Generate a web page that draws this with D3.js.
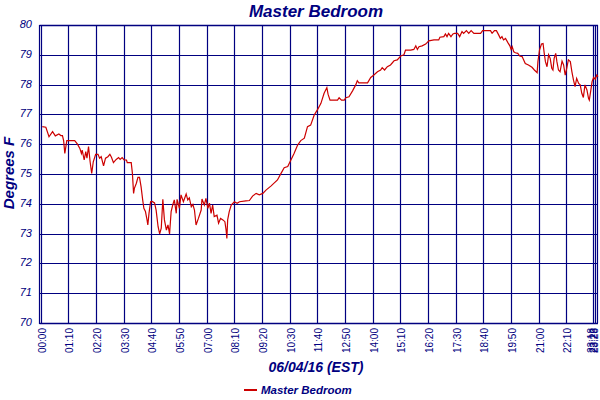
<!DOCTYPE html>
<html>
<head>
<meta charset="utf-8">
<script src="https://cdn.jsdelivr.net/npm/d3@7"></script>
<style>
  body { margin: 0; background: #fff; }
  svg { display: block; font-family: 'Liberation Sans', Arial, sans-serif; }
</style>
</head>
<body>
<svg id="chart" width="600" height="400"></svg>
<script>
// minutes after midnight for each reading
const minutes = [
  2, 11, 19, 28, 35, 44, 49, 53, 56, 59, 61, 64, 76, 84, 91, 97, 101, 103, 108, 112,
  115, 119, 123, 127, 131, 137, 143, 147, 151, 157, 162, 168, 173, 177, 182, 189, 195, 199, 204, 209,
  215, 217, 227, 230, 233, 235, 240, 244, 248, 252, 256, 259, 263, 267, 269, 272, 276, 280, 286, 290,
  295, 299, 303, 307, 311, 316, 320, 324, 328, 332, 336, 341, 343, 349, 353, 359, 366, 370, 374, 379,
  383, 387, 391, 397, 404, 406, 412, 416, 421, 425, 429, 433, 437, 444, 448, 453, 459, 464, 467, 469,
  471, 475, 480, 488, 495, 501, 517, 526, 534, 543, 551, 560, 568, 581, 597, 606, 614, 623, 631, 639,
  648, 656, 665, 673, 681, 690, 698, 707, 715, 722, 725, 730, 749, 753, 759, 766, 770, 778, 787, 795,
  799, 803, 825, 833, 841, 850, 858, 862, 868, 875, 883, 892, 900, 909, 917, 921, 934, 942, 947, 951,
  955, 963, 972, 980, 993, 1005, 1008, 1018, 1022, 1026, 1030, 1036, 1041, 1045, 1053, 1058, 1064, 1068, 1075, 1081,
  1087, 1094, 1111, 1116, 1136, 1140, 1146, 1151, 1157, 1161, 1165, 1169, 1174, 1180, 1185, 1188, 1191, 1195, 1199, 1205,
  1210, 1216, 1224, 1232, 1241, 1247, 1254, 1256, 1260, 1265, 1269, 1272, 1275, 1279, 1283, 1287, 1291, 1294, 1297, 1301,
  1304, 1308, 1312, 1317, 1321, 1325, 1329, 1333, 1338, 1342, 1346, 1350, 1354, 1359, 1363, 1367, 1371, 1375, 1380, 1384,
  1386, 1390, 1393, 1397, 1401, 1405, 1408
];
const temps = [
  76.59, 76.57, 76.25, 76.42, 76.28, 76.34, 76.29, 76.29, 76.12, 75.69, 75.86, 76.12, 76.12, 76.12, 76.00, 75.86, 75.69, 75.80, 75.47, 75.75,
  75.53, 75.92, 75.41, 75.02, 75.41, 75.66, 75.66, 75.53, 75.58, 75.27, 75.53, 75.58, 75.66, 75.56, 75.38, 75.49, 75.55, 75.49, 75.55, 75.47,
  75.47, 75.38, 75.38, 75.02, 74.35, 74.52, 74.69, 74.89, 74.89, 74.57, 74.13, 73.85, 73.74, 73.46, 73.29, 73.68, 74.07, 74.08, 74.03, 73.79,
  73.23, 72.99, 73.18, 74.15, 73.46, 73.12, 73.29, 72.99, 73.74, 73.96, 74.13, 73.68, 74.15, 73.85, 74.30, 74.07, 74.33, 74.13, 74.20, 73.90,
  73.98, 73.79, 73.29, 73.51, 73.79, 74.16, 73.96, 74.18, 73.85, 74.02, 73.68, 73.96, 73.57, 73.62, 73.35, 73.51, 73.46, 73.40, 73.12, 72.84,
  73.46, 73.74, 73.96, 74.07, 74.02, 74.07, 74.10, 74.11, 74.26, 74.35, 74.30, 74.35, 74.46, 74.60, 74.80, 75.02, 75.21, 75.25, 75.47, 75.69,
  75.97, 76.12, 76.20, 76.59, 76.64, 76.98, 77.15, 77.37, 77.71, 77.90, 77.68, 77.48, 77.48, 77.56, 77.48, 77.48, 77.56, 77.59, 77.79, 77.99,
  78.13, 78.06, 78.06, 78.24, 78.32, 78.43, 78.49, 78.57, 78.49, 78.60, 78.66, 78.80, 78.83, 78.96, 79.00, 79.16, 79.16, 79.18, 79.30, 79.18,
  79.27, 79.30, 79.36, 79.47, 79.50, 79.50, 79.59, 79.61, 79.70, 79.61, 79.72, 79.61, 79.70, 79.72, 79.72, 79.61, 79.78, 79.72, 79.81, 79.72,
  79.81, 79.72, 79.72, 79.81, 79.81, 79.72, 79.81, 79.81, 79.66, 79.55, 79.61, 79.50, 79.55, 79.41, 79.30, 79.18, 79.27, 79.10, 79.07, 79.05,
  78.96, 78.94, 78.71, 78.66, 78.58, 78.49, 78.40, 78.77, 79.16, 79.36, 79.38, 79.05, 78.77, 78.60, 79.00, 78.88, 78.55, 78.49, 78.88, 79.05,
  78.77, 78.49, 78.43, 78.79, 78.66, 78.32, 78.55, 78.83, 78.77, 78.43, 78.15, 77.93, 78.21, 78.04, 77.99, 77.71, 77.57, 77.99, 77.82, 77.54,
  77.48, 77.82, 78.10, 78.24, 78.18, 78.32, 78.27
];
const xTickMinutes = [0, 70, 140, 210, 280, 350, 420, 490, 560, 630, 700, 770, 840, 910, 980, 1050, 1120, 1190, 1260, 1330, 1398, 1403, 1408];
const xTickLabels = ['00:00', '01:10', '02:20', '03:30', '04:40', '05:50', '07:00', '08:10', '09:20', '10:30', '11:40', '12:50',
  '14:00', '15:10', '16:20', '17:30', '18:40', '19:50', '21:00', '22:10', '23:18', '23:23', '23:28'];
const yTicks = [70, 71, 72, 73, 74, 75, 76, 77, 78, 79, 80];

const navy = '#000080';
const red = '#cc0000';
const margin = { top: 25, right: 2, bottom: 77, left: 41.5 };
const w = 600;
const h = 400;

const svg = d3.select('#chart');

const xScale = d3.scaleLinear()
  .domain([0, 1408])
  .range([margin.left, w - margin.right]);
const yScale = d3.scaleLinear()
  .domain([70, 80])
  .range([h - margin.bottom, margin.top]);

// grid
svg.append('g')
  .selectAll('line')
  .data(xTickMinutes)
  .join('line')
  .attr('x1', d => Math.round(xScale(d)) - 0.5)
  .attr('x2', d => Math.round(xScale(d)) - 0.5)
  .attr('y1', margin.top)
  .attr('y2', h - margin.bottom)
  .attr('stroke', navy)
  .attr('stroke-width', 1.2);

svg.append('g')
  .selectAll('line')
  .data(yTicks)
  .join('line')
  .attr('x1', margin.left - 2)
  .attr('x2', w - margin.right)
  .attr('y1', d => Math.round(yScale(d)) + 0.5)
  .attr('y2', d => Math.round(yScale(d)) + 0.5)
  .attr('stroke', navy)
  .attr('stroke-width', d => (d === 70 || d === 80) ? 1.6 : 1.2);

// left border
svg.append('line')
  .attr('x1', 39.5).attr('x2', 39.5)
  .attr('y1', margin.top).attr('y2', h - margin.bottom + 1)
  .attr('stroke', navy)
  .attr('stroke-width', 1.2);

// y tick labels
svg.append('g')
  .selectAll('text')
  .data(yTicks)
  .join('text')
  .attr('x', 32)
  .attr('y', d => yScale(d) + 3)
  .attr('text-anchor', 'end')
  .attr('font-size', 11)
  .attr('font-style', 'italic')
  .attr('fill', navy)
  .text(d => d);

// x tick labels (the last few crowd together at the right edge)
svg.append('g')
  .selectAll('text')
  .data(xTickMinutes)
  .join('text')
  .attr('transform', d => `translate(${Math.min(xScale(d) + (d > 1390 ? 1 : 4), 598)}, 328) rotate(-90)`)
  .attr('text-anchor', 'end')
  .attr('font-size', 10)
  .attr('fill', navy)
  .text((d, i) => xTickLabels[i]);

// data line
const line = d3.line()
  .x((d, i) => xScale(minutes[i]))
  .y(d => yScale(d));

svg.append('path')
  .datum(temps)
  .attr('d', line)
  .attr('fill', 'none')
  .attr('stroke', red)
  .attr('stroke-width', 1.2);

// titles
svg.append('text')
  .attr('x', 316)
  .attr('y', 17)
  .attr('text-anchor', 'middle')
  .attr('font-size', 17)
  .attr('font-style', 'italic')
  .attr('font-weight', 'bold')
  .attr('fill', navy)
  .text('Master Bedroom');

svg.append('text')
  .attr('x', 316)
  .attr('y', 372)
  .attr('text-anchor', 'middle')
  .attr('font-size', 14)
  .attr('font-style', 'italic')
  .attr('font-weight', 'bold')
  .attr('fill', navy)
  .text('06/04/16 (EST)');

svg.append('text')
  .attr('transform', 'translate(14, 173) rotate(-90)')
  .attr('text-anchor', 'middle')
  .attr('font-size', 15)
  .attr('font-style', 'italic')
  .attr('font-weight', 'bold')
  .attr('fill', navy)
  .text('Degrees F');

// legend
svg.append('line')
  .attr('x1', 244).attr('x2', 257)
  .attr('y1', 390).attr('y2', 390)
  .attr('stroke', red)
  .attr('stroke-width', 2);

svg.append('text')
  .attr('x', 261)
  .attr('y', 394)
  .attr('font-size', 11.5)
  .attr('font-style', 'italic')
  .attr('font-weight', 'bold')
  .attr('fill', navy)
  .text('Master Bedroom');
</script>
</body>
</html>
